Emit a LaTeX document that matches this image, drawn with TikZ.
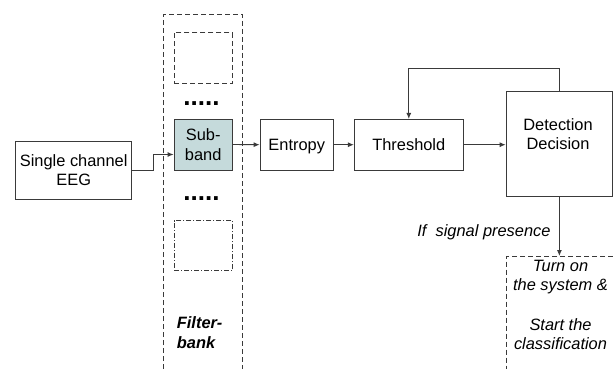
\documentclass[tikz,border=0pt]{standalone}
\usepackage{fontspec}
\setmainfont{Liberation Sans}
\usetikzlibrary{arrows.meta}
\definecolor{subfill}{HTML}{C5DADB}
\definecolor{ln}{HTML}{3A3A3A}
\begin{document}
\begin{tikzpicture}[x=1pt,y=-1pt,
  every node/.style={font=\fontsize{16.4}{19.7}\selectfont},
  blk/.style={draw=ln,line width=0.9pt,inner sep=0pt,align=center},
  one/.style={text height=12.5pt,text depth=0pt},
  arr/.style={draw=ln,line width=0.9pt,-{Latex[length=6pt,width=5pt]}},
  dsh/.style={draw=ln,line width=0.9pt,dash pattern=on 5pt off 3pt},
  dshdot/.style={draw=ln,line width=0.9pt,dash pattern=on 5pt off 2pt on 1pt off 2pt},
  dotrow/.style={font=\fontsize{26}{30}\selectfont\bfseries,inner sep=0pt}]
\useasboundingbox[fill=white] (0,0) rectangle (613,369);
% filterbank column
\draw[dsh] (163.3,369) -- (163.3,14.7) -- (242.7,14.7) -- (242.7,369);
\node[blk,dsh,minimum width=58.3pt,minimum height=50.6pt] (top) at (203.2,58) {};
\node[dotrow] (dots1) at (201.5,103.5) {.....};
\node[blk,fill=subfill,minimum width=58.3pt,minimum height=51pt] (sub) at (203.2,144.5) {Sub-\\band};
\node[dotrow] (dots2) at (201.5,198.5) {.....};
\node[blk,dshdot,minimum width=58.7pt,minimum height=50pt] (bot) at (203.4,245.7) {};
\node[font=\fontsize{16.4}{19.7}\selectfont\bfseries\itshape,align=left,anchor=west,inner sep=0pt] (fb) at (176.7,332.7) {Filter-\\bank};
% blocks
\node[blk,minimum width=116pt,minimum height=58pt] (eeg) at (73.7,170) {Single channel\\EEG};
\node[blk,one,minimum width=73.3pt,minimum height=50.7pt] (ent) at (296.7,144.7) {Entropy};
\node[blk,one,minimum width=109pt,minimum height=50.7pt] (thr) at (408.8,144.7) {Threshold};
\node[blk,minimum width=106.7pt,minimum height=105pt] (det) at (559.4,143.5) {};
\node[align=center,inner sep=0pt] (dett) at (558,134.2) {Detection\\Decision};
% output box
\draw[dsh] (613,256) -- (506.7,256) -- (506.7,369);
\coordinate (outtop) at (559.4,256);
\node[font=\fontsize{16.4}{19.7}\selectfont\itshape,align=center,inner sep=0pt] (outt) at (560.5,305) {Turn on\\the system \&\\[19.7pt]Start the\\classification};
% connectors
\draw[arr] (eeg.east) -- ++(21,0) |- ([yshift=-10pt]sub.west);
\draw[arr] (sub.east) -- (ent.west);
\draw[arr] (ent.east) -- (thr.west);
\draw[arr] (thr.east) -- (thr.east -| det.west);
\draw[arr] (det.north) -- ++(0,-21.7) -| (thr.north);
\draw[arr] (det.south) -- (outtop);
\node[font=\fontsize{16.4}{19.7}\selectfont\itshape,inner sep=0pt,anchor=east] (cond) at (550.7,232.3) {If\ \ signal presence};
\end{tikzpicture}
\end{document}
